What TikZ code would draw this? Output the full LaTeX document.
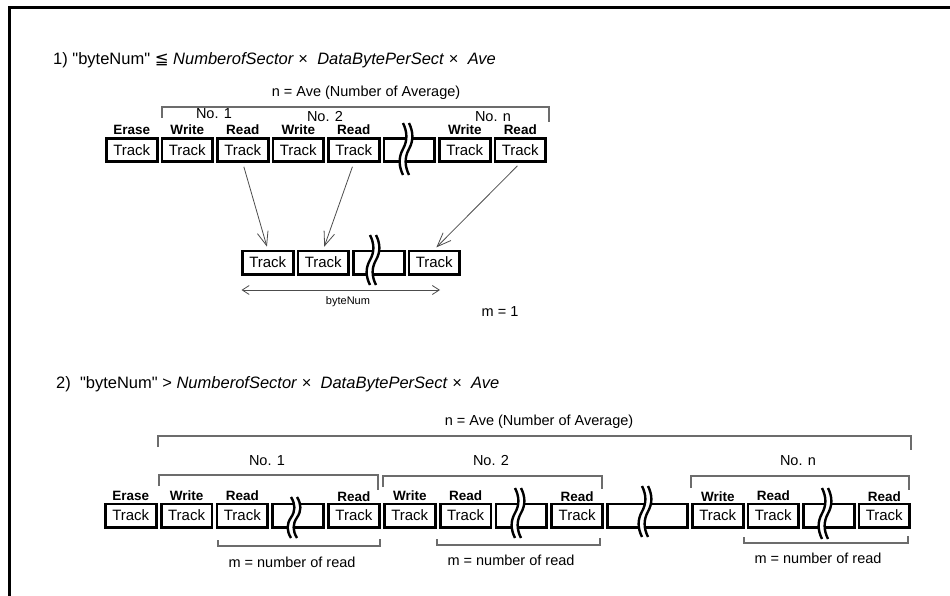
\documentclass[tikz,border=0pt]{standalone}
\usepackage{fontspec}
\setmainfont{Liberation Sans}
\newfontfamily\symfont{DejaVu Sans}
\newfontfamily\qfont{Liberation Sans}[Ligatures=ResetAll]
\newcommand{\dq}{{\qfont\symbol{34}}}
\usetikzlibrary{arrows.meta}
\newcommand{\halfwave}[3]{% x, top y, bottom y : ')' over '('
  ({#1},#2) .. controls ({#1+4.5},{#2+0.18*(#3-#2)}) and ({#1+4.5},{#2+0.34*(#3-#2)}) .. ({#1},{#2+0.5*(#3-#2)})
  .. controls ({#1-4.5},{#2+0.66*(#3-#2)}) and ({#1-4.5},{#2+0.82*(#3-#2)}) .. ({#1},#3)}
\newcommand{\mybreak}[3]{% centre x, top y, bottom y
  \fill[white] \halfwave{#1-3}{#2}{#3} -- ({#1+3},#3)
    .. controls ({#1-1.5},{#2+0.82*(#3-#2)}) and ({#1-1.5},{#2+0.66*(#3-#2)}) .. ({#1+3},{#2+0.5*(#3-#2)})
    .. controls ({#1+7.5},{#2+0.34*(#3-#2)}) and ({#1+7.5},{#2+0.18*(#3-#2)}) .. ({#1+3},#2) -- cycle;
  \draw[waveline] \halfwave{#1-3}{#2}{#3};
  \draw[waveline] \halfwave{#1+3}{#2}{#3};
}
\begin{document}
\begin{tikzpicture}[x=1pt,y=-1pt,
  trk/.style={draw=black, line width=2.8pt, fill=white, minimum width=50.7pt, minimum height=23.2pt, inner sep=0pt, font=\fontsize{15}{17}\selectfont},
  wide/.style={trk, minimum width=79.7pt},
  lab/.style={anchor=base, inner sep=0pt, font=\fontsize{13.5}{15}\selectfont\bfseries},
  txt/.style={inner sep=0pt, font=\fontsize{14.5}{17}\selectfont},
  ttl/.style={inner sep=0pt, anchor=west, font=\fontsize{16.5}{20}\selectfont},
  brk/.style={draw=gray!85!black, line width=1.1pt},
  waveline/.style={draw=black, line width=2.4pt},
  arr/.style={draw=gray!60!black, line width=0.8pt, -{Straight Barb[length=14pt,width=11pt]}, shorten <=4pt, shorten >=3pt},
  dim/.style={draw=gray!60!black, line width=0.8pt, {Straight Barb[length=7pt,width=9pt]}-{Straight Barb[length=7pt,width=9pt]}}
]
\useasboundingbox (0,0) rectangle (950,596);
% frame
\draw[line width=3pt] (950,7.5) -- (9.5,7.5) -- (9.5,596);

% ================= Section 1 =================
\node[ttl] (title1) at (53,60) {1) \dq byteNum\dq\ {\symfont ≦} \textit{NumberofSector} × \ \textit{DataBytePerSect} × \ \textit{Ave}};
\node[txt] (n1) at (366,93) {n = Ave (Number of Average)};
\draw[brk] (162,118) -- (162,107) -- (549,107) -- (549,122);
\node[txt] (no11) at (214,114) {No. 1};
\node[txt] (no12) at (325,117) {No. 2};
\node[txt] (no1n) at (493,117) {No. n};

\node[trk] (t1) at (131.75,150) {Track};
\node[trk] (t2) at (187.25,150) {Track};
\node[trk] (t3) at (242.75,150) {Track};
\node[trk] (t4) at (298.25,150) {Track};
\node[trk] (t5) at (353.75,150) {Track};
\node[trk] (t6) at (409.25,150) {};
\node[trk] (t7) at (464.75,150) {Track};
\node[trk] (t8) at (520.25,150) {Track};
\mybreak{406}{123}{175}

\node[lab] at (131.75,135) {Erase};
\node[lab] at (187.25,135) {Write};
\node[lab] at (242.75,135) {Read};
\node[lab] at (298.25,135) {Write};
\node[lab] at (353.75,135) {Read};
\node[lab] at (464.75,135) {Write};
\node[lab] at (520.25,135) {Read};

\node[trk] (u1) at (267.75,262.5) {Track};
\node[trk] (u2) at (323.25,262.5) {Track};
\node[trk] (u3) at (378.75,262.5) {};
\node[trk] (u4) at (434.25,262.5) {Track};
\mybreak{373}{235}{285}

\draw[arr] (t3.south) -- (u1.north);
\draw[arr] (t5.south) -- (u2.north);
\draw[arr] (t8.south) -- (u4.north);

\coordinate (bnA) at (241.5,290);
\coordinate (bnB) at (440,290);
\draw[dim] (bnA) -- (bnB);
\node[inner sep=0pt, font=\fontsize{11}{13}\selectfont] (bn) at (348,302) {byteNum};
\node[txt] (m1) at (500,312) {m =  1};

% ================= Section 2 =================
\node[ttl] (title2) at (56,384) {2)~ \dq byteNum\dq\ > \textit{NumberofSector} × \ \textit{DataBytePerSect} × \ \textit{Ave}};
\node[txt] (n2) at (539,422) {n = Ave (Number of Average)};
\draw[brk] (158,447) -- (158,436) -- (911,436) -- (911,450);
\node[txt] (no21) at (267,461) {No. 1};
\node[txt] (no22) at (491,461) {No. 2};
\node[txt] (no2n) at (798,461) {No. n};
\draw[brk] (159,486) -- (159,475) -- (378,475) -- (378,490);
\draw[brk] (383,487) -- (383,476) -- (602,476) -- (602,489);
\draw[brk] (691,488) -- (691,476) -- (909,476) -- (909,490);

\node[trk] (s1) at (130.75,515.5) {Track};
\node[trk] (s2) at (186.55,515.5) {Track};
\node[trk] (s3) at (242.35,515.5) {Track};
\node[trk] (s4) at (298.15,515.5) {};
\node[trk] (s5) at (353.95,515.5) {Track};
\node[trk] (s6) at (409.75,515.5) {Track};
\node[trk] (s7) at (465.55,515.5) {Track};
\node[trk] (s8) at (521.35,515.5) {};
\node[trk] (s9) at (577.15,515.5) {Track};
\node[wide] (s10) at (647.25,515.5) {};
\node[trk] (s11) at (717.75,515.5) {Track};
\node[trk] (s12) at (773.25,515.5) {Track};
\node[trk] (s13) at (828.75,515.5) {};
\node[trk] (s14) at (884.25,515.5) {Track};
\mybreak{294}{497}{538}
\mybreak{518}{488}{538}
\mybreak{645}{486}{537}
\mybreak{825}{488}{539}

\node[lab] at (130.75,500) {Erase};
\node[lab] at (186.55,500) {Write};
\node[lab] at (242.35,500) {Read};
\node[lab] at (353.95,501) {Read};
\node[lab] at (409.75,500) {Write};
\node[lab] at (465.55,500) {Read};
\node[lab] at (577.15,501) {Read};
\node[lab] at (717.75,501) {Write};
\node[lab] at (773.25,500) {Read};
\node[lab] at (884.25,501) {Read};

\draw[brk] (218,540) -- (218,546) -- (380,546) -- (380,539);
\draw[brk] (437,539) -- (437,545) -- (600,545) -- (600,538);
\draw[brk] (744,537) -- (744,543) -- (908,543) -- (908,536);
\node[txt] (m21) at (292,562) {m = number of read};
\node[txt] (m22) at (511,560) {m = number of read};
\node[txt] (m2n) at (818,558) {m = number of read};
\end{tikzpicture}
\end{document}
